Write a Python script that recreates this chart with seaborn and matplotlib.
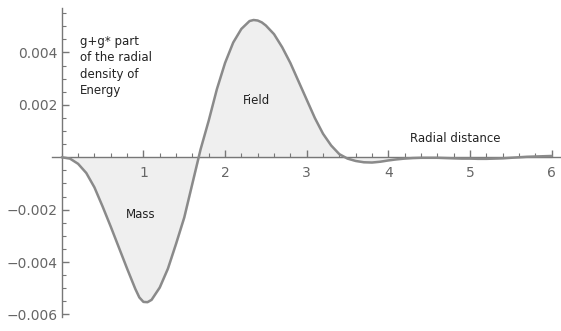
import numpy as np
import pandas as pd
import seaborn as sns
import matplotlib.pyplot as plt
from matplotlib.ticker import MultipleLocator, FixedLocator

# radial distance samples and g+g* energy density
r = [0.0, 0.1, 0.2, 0.3, 0.4, 0.5, 0.6, 0.7, 0.8, 0.9, 0.95, 1.0, 1.05, 1.1,
     1.2, 1.3, 1.4, 1.5, 1.6, 1.7, 1.8, 1.9, 2.0, 2.1, 2.2, 2.3, 2.35, 2.4,
     2.45, 2.5, 2.6, 2.7, 2.8, 2.9, 3.0, 3.1, 3.2, 3.3, 3.4, 3.5, 3.6, 3.7,
     3.8, 3.9, 4.0, 4.1, 4.2, 4.3, 4.4, 4.5, 4.6, 4.7, 4.8, 4.9, 5.0, 5.1,
     5.2, 5.3, 5.4, 5.5, 5.6, 5.7, 5.8, 5.9, 6.0]
energy = [0.0, -0.00005, -0.00025, -0.0006, -0.00115, -0.00188, -0.00265,
          -0.00345, -0.00425, -0.00502, -0.00535, -0.00552, -0.00553, -0.00544,
          -0.00497, -0.00425, -0.0033, -0.0023, -0.001, 0.0003, 0.0014, 0.0026,
          0.0036, 0.00438, 0.0049, 0.0052, 0.00524, 0.00522, 0.00515, 0.00503,
          0.0047, 0.0042, 0.0036, 0.0029, 0.0022, 0.0015, 0.0009, 0.00045,
          0.00012, -0.00005, -0.00014, -0.00019, -0.0002, -0.00017, -0.00012,
          -0.00008, -0.00005, -0.00003, -0.00002, -0.00002, -0.00002, -0.00003,
          -0.00004, -0.00005, -0.00005, -0.00006, -0.00006, -0.00005, -0.00004,
          -0.00002, 0.0, 0.00002, 0.00003, 0.00004, 0.00005]

x_ticks = [1, 2, 3, 4, 5, 6]
y_ticks = [-0.006, -0.004, -0.002, 0.002, 0.004]
y_labels = ['\u22120.006', '\u22120.004', '\u22120.002', '0.002', '0.004']

df = pd.DataFrame({'r': r, 'energy': energy})

sns.set_style('white')
plt.rcParams['font.family'] = ['DejaVu Sans']

fig = plt.figure(figsize=(5.61, 3.31), dpi=100)
ax = fig.add_axes([0.0927, 0.042, 0.905, 0.934])
ax.set_axisbelow(False)

ax.fill_between(df['r'], df['energy'], 0, color='#efefef', zorder=0)
sns.lineplot(data=df, x='r', y='energy', ax=ax, color='#8a8a8a', linewidth=1.8, zorder=3)

ax.set_xlim(-0.12, 6.1)
ax.set_ylim(-0.0061, 0.0057)

# axes crossing at the origin, Mathematica style
for side in ['top', 'right']:
    ax.spines[side].set_visible(False)
ax.spines['left'].set_position(('data', 0))
ax.spines['bottom'].set_position(('data', 0))
for side in ['left', 'bottom']:
    ax.spines[side].set_color('#777777')
    ax.spines[side].set_linewidth(1.0)

ax.xaxis.set_major_locator(FixedLocator(x_ticks))
ax.xaxis.set_minor_locator(MultipleLocator(0.2))
ax.yaxis.set_major_locator(FixedLocator(y_ticks))
ax.yaxis.set_minor_locator(MultipleLocator(0.0005))
ax.set_yticklabels(y_labels)
ax.tick_params(which='both', bottom=True, left=True, direction='in',
               color='#777777', labelcolor='#666666', labelsize=10)
ax.tick_params(which='major', length=5, width=1.0)
ax.tick_params(which='minor', length=3, width=0.8)
ax.tick_params(axis='x', pad=6)
ax.tick_params(axis='y', pad=3)
ax.set_xlabel('')
ax.set_ylabel('')

ax.text(0.225, 0.00468, 'g+g* part\nof the radial\ndensity of\nEnergy',
        fontsize=8.5, color='#222222', va='top', ha='left', linespacing=1.35)
ax.text(2.38, 0.00215, 'Field', fontsize=8.5, color='#222222', ha='center', va='center')
ax.text(0.97, -0.00219, 'Mass', fontsize=8.5, color='#222222', ha='center', va='center')
ax.text(4.82, 0.00072, 'Radial distance', fontsize=8.5, color='#222222', ha='center', va='center')

fig.savefig('out.png', dpi=100)
